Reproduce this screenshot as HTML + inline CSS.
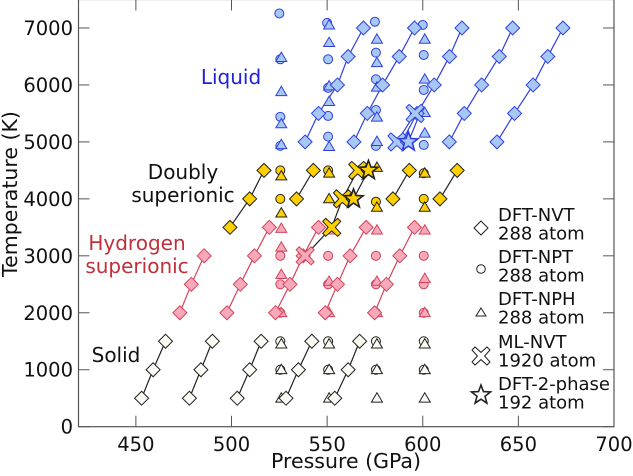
<!DOCTYPE html>
<html><head><meta charset="utf-8"><style>
html,body{margin:0;padding:0;background:#fff;}
svg{display:block;font-family:"DejaVu Sans","Liberation Sans",sans-serif;}
</style></head><body>
<svg id="chart" width="633" height="476" viewBox="0 0 633 476" xmlns="http://www.w3.org/2000/svg">
<g id="grid"></g>
<g id="marks"></g>
<g id="axes"></g>
</svg>
<script>
// ---- data ----
const xTicks = [450, 500, 550, 600, 650, 700];
const yTicks = [0, 1000, 2000, 3000, 4000, 5000, 6000, 7000];
const solidP = [[453,459,465.5],[478,484,490],[503,509.5,515.5],[528.5,535,542],[554,561,567]];
const solidT = [500,1000,1500];
const redP = [[473,479,485.7],[497.6,504.6,512,519.8],[523,530.6,537.5,545.5],[549,555.4,562,570.4],[574.8,581,588,595.7]];
const redT = [2000,2500,3000,3500];
const yelP = [[499.2,509.5,517],[534,542.8],[584.4,593],[609,618]];
const yelT = [[3500,4000,4500],[4000,4500],[4000,4500],[4000,4500]];
const bluP = [[538.5,545.5,555.4,561,569],[564,571,579,587.7,595.7],[589,597,606,614,620.5],[613.9,621.7,630.8,640,647],[638.8,648,657.7,665.4,673.3]];
const bluT = [5000,5500,6000,6500,7000];
const nptP = [525,550,575,600, 525,550,575,600, 525,525,575,600, 525,550,550,575,575,600,600, 525,525,525,525,550,550,550,550,575,575,575,575,600,600,600,600,
  525,550,575,600];
const nptT = [1500,1500,1500,1500, 1000,1000,1000,1000, 2000,2500,2000,2000, 3000,3000,2500,3000,2500,2500,3000, 4500,4000,4930,5440,4500,5093,5456,5950, 3950,4930,5560,6100, 4450,4000,4947,5912,
  6450,6450,6567,6526];
const nptC = ['s','s','s','s','s','s','s','s','r','r','r','r','r','r','r','r','r','r','r','y','y','b','b','y','b','b','b','y','b','b','b','y','y','b','b','b','b','b','b'];
const extraNptP=[525,550,575,600]; const extraNptT=[7255,7090,7110,7053];
const nphP = [525,550,575,600, 525,550,575,600, 525,550,575,600, 525,525,525,525,550,550,550,575,575,575,600,600,600,
  525,525,550,550,575,575,600,600, 525,525,525,525,550,550,550,550,575,575,575,575,600,600,600];
const nphT = [500,500,500,500, 1000,1000,1000,1000, 1450,1450,1450,1450, 2000,2670,3150,3480,2000,2550,3450,2000,2550,3450,2000,2600,3450,
  4400,3750,4450,4000,4550,3850,4450,3850, 4950,5315,5880,6480,4917,5707,5980,6742,5005,5433,5960,6390,5152,5514,6100];
const nphC = ['s','s','s','s','s','s','s','s','s','s','s','s','r','r','r','r','r','r','r','r','r','r','r','r','r',
  'y','y','y','y','y','y','y','y','b','b','b','b','b','b','b','b','b','b','b','b','b','b','b'];
const extraNphP=[575,600,550]; const extraNphT=[6800,6800,7050];
const mlP = [538.5,552.4,558,566,586.5,596];
const mlT = [3000,3500,4000,4500,5000,5500];
const mlC = ['r','y','y','y','b','b'];
const stP = [563.8,571.6,592.5];
const stT = [4000,4500,5000];
const stC = ['y','y','b'];

// ---- scales ----
const X0=78.5,X1=614,Y0=426.7,Y1=-0.5;
const xs=p=>X0+(p-420)/(700-420)*(X1-X0);
const ys=t=>Y0+(t-0)/(7500-0)*(Y1-Y0);
const NS="http://www.w3.org/2000/svg";
const marks=document.getElementById('marks');
const axes=document.getElementById('axes');
const col={s:{f:'#fbfbf4',s:'#222',l:'#222'},r:{f:'#f7a8bb',s:'#d2455a',l:'#d2455a'},y:{f:'#ffd000',s:'#222',l:'#222'},b:{f:'#a8c8f4',s:'#2f3fe0',l:'#2f3fe0'}};
function mk(tag,attrs,parent){const e=document.createElementNS(NS,tag);for(const k in attrs)e.setAttribute(k,attrs[k]);(parent||marks).appendChild(e);return e;}
function diamond(x,y,c,par){const r=7;const e=mk('polygon',{points:`${x},${y-r} ${x+r},${y} ${x},${y+r} ${x-r},${y}`,fill:c.f,stroke:c.s,'stroke-width':1},par);

return e;}
function circ(x,y,c,par){const e=mk('circle',{cx:x,cy:y,r:4.5,fill:c.f,stroke:c.s,'stroke-width':1},par);

return e;}
function tri(x,y,c,par){const r=5.5;const e=mk('polygon',{points:`${x},${y-r} ${x+r},${y+r*0.7} ${x-r},${y+r*0.7}`,fill:c.f,stroke:c.s,'stroke-width':1},par);

return e;}
function cross(x,y,c,par){const a=3,b=9;const pts=[];
const d=[[0,-a*1.2],[b-a,-b],[b,-b+a],[a*1.2,0],[b,b-a],[b-a,b],[0,a*1.2],[-b+a,b],[-b,b-a],[-a*1.2,0],[-b,-b+a],[-b+a,-b]];
d.forEach(v=>pts.push((x+v[0])+','+(y+v[1])));
const e=mk('polygon',{points:pts.join(' '),fill:c.f,stroke:c.s,'stroke-width':1},par);

return e;}
function star(x,y,c,w,par){const R=10,r=4.2,pts=[];for(let i=0;i<10;i++){const rr=i%2?r:R;const a=-Math.PI/2+i*Math.PI/5;pts.push((x+rr*Math.cos(a))+','+(y+rr*Math.sin(a)));}
const e=mk('polygon',{points:pts.join(' '),fill:c.f,stroke:c.s,'stroke-width':w||1.6},par);

return e;}
function line(P,T,c){const e=mk('polyline',{points:P.map((p,i)=>xs(p)+','+ys(T[i])).join(' '),fill:'none',stroke:c.l,'stroke-width':1.2});

}

solidP.forEach(P=>line(P,solidT,col.s));
redP.forEach(P=>line(P,redT.slice(0,P.length),col.r));
yelP.forEach((P,i)=>line(P,yelT[i],col.y));
bluP.forEach(P=>line(P,bluT,col.b));
line(mlP.slice(0,4),mlT.slice(0,4),col.y);
line([mlP[4],mlP[5]],[mlT[4],mlT[5]],col.b);
line(stP.slice(0,2),stT.slice(0,2),col.y);
line([stP[2],stP[2]+6],[stT[2],stT[2]+500],col.b);
nptP.forEach((p,i)=>circ(xs(p)+1,ys(nptT[i]),col[nptC[i]]));
extraNptP.forEach((p,i)=>circ(xs(p),ys(extraNptT[i]),col.b));
nphP.forEach((p,i)=>tri(xs(p)+2,ys(nphT[i]),col[nphC[i]]));
extraNphP.forEach((p,i)=>tri(xs(p)+2,ys(extraNphT[i]),col.b));
solidP.forEach(P=>P.forEach((p,i)=>diamond(xs(p),ys(solidT[i]),col.s)));
redP.forEach(P=>P.forEach((p,i)=>diamond(xs(p),ys(redT[i]),col.r)));
yelP.forEach((P,j)=>P.forEach((p,i)=>diamond(xs(p),ys(yelT[j][i]),col.y)));
bluP.forEach(P=>P.forEach((p,i)=>diamond(xs(p),ys(bluT[i]),col.b)));
mlP.forEach((p,i)=>cross(xs(p),ys(mlT[i]),col[mlC[i]]));
stP.forEach((p,i)=>star(xs(p),ys(stT[i]),col[stC[i]]));

const fr=mk('rect',{x:X0,y:Y1,width:X1-X0,height:Y0-Y1,fill:'none',stroke:'#555','stroke-width':1.2},axes);


xTicks.forEach(v=>{const x=xs(v);
mk('line',{x1:x,y1:Y0,x2:x,y2:Y0-11,stroke:'#555','stroke-width':1},axes);
if(v<700)mk('line',{x1:x,y1:Y1,x2:x,y2:Y1+11,stroke:'#555','stroke-width':1},axes);
const t=mk('text',{x:x,y:451,'text-anchor':'middle','font-size':19.5,fill:'#111'},axes);t.textContent=v;

});
yTicks.forEach(v=>{const y=ys(v);
mk('line',{x1:X0,y1:y,x2:X0+11,y2:y,stroke:'#555','stroke-width':1},axes);
mk('line',{x1:X1,y1:y,x2:X1-11,y2:y,stroke:'#555','stroke-width':1},axes);
const t=mk('text',{x:73,y:y+7,'text-anchor':'end','font-size':19.5,fill:'#111'},axes);t.textContent=v;

});

const lg=mk('g',{},axes);


const L={f:'#fff',s:'#222'};
const lx=481;
mk('polygon',{points:`${lx},${221} ${lx+7},${228} ${lx},${235} ${lx-7},${228}`,fill:'#fff',stroke:'#222'},lg);
mk('circle',{cx:lx,cy:269,r:4.3,fill:'#fff',stroke:'#222'},lg);
mk('polygon',{points:`${lx},${308} ${lx+5},${316} ${lx-5},${316}`,fill:'#fff',stroke:'#222'},lg);
cross(lx,356,L,lg);
star(lx,395,L,1.6,lg);
const legTxt=[['DFT-NVT','288 atom',221],['DFT-NPT','288 atom',263],['DFT-NPH','288 atom',305],['ML-NVT','1920 atom',348],['DFT-2-phase','192 atom',390]];
legTxt.forEach(a=>{const t=mk('text',{x:498,y:a[2],'font-size':18,fill:'#111'},lg);


const s1=mk('tspan',{x:498},t);s1.textContent=a[0];const s2=mk('tspan',{x:498,dy:18.5},t);s2.textContent=a[1];});

function lab(txt,x,y,c,name){const t=mk('text',{x:x,y:y,'text-anchor':'middle','font-size':20,fill:c},axes);t.textContent=txt;

}
lab('Liquid',231,84,'#2020d8','liquid-label');
lab('Doubly',183,179,'#111','doubly-label');
lab('superionic',183,202,'#111','doubly-superionic-label');
lab('Hydrogen',137,250,'#c0303a','hydrogen-label');
lab('superionic',137,273,'#c0303a','hydrogen-superionic-label');
lab('Solid',116,362,'#111','solid-label');
const xl=mk('text',{x:346,y:468,'text-anchor':'middle','font-size':20.5,fill:'#111'},axes);xl.textContent='Pressure (GPa)';


const yl=mk('text',{x:0,y:0,'text-anchor':'middle','font-size':20.5,fill:'#111',transform:'translate(17,194) rotate(-90)'},axes);yl.textContent='Temperature (K)';


</script>
</body></html>
